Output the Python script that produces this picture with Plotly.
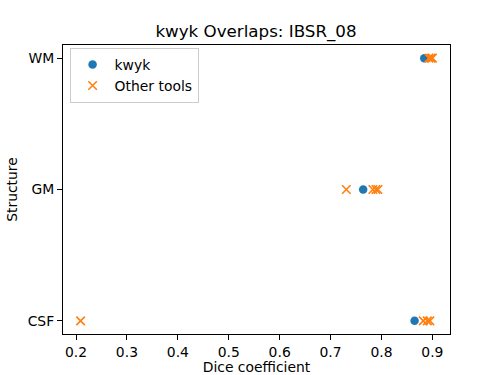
import plotly.graph_objects as go

structures = ["CSF", "GM", "WM"]
kwyk_dice = [0.865, 0.764, 0.884]
other_struct = ["CSF", "CSF", "CSF", "CSF", "GM", "GM", "GM", "GM", "WM", "WM", "WM"]
other_dice = [0.209, 0.882, 0.890, 0.895, 0.731, 0.783, 0.789, 0.793, 0.893, 0.897, 0.900]

ymap = {s: i for i, s in enumerate(structures)}

fig = go.Figure()
fig.add_trace(go.Scatter(
    x=kwyk_dice, y=[ymap[s] for s in structures], mode="markers", name="kwyk",
    marker=dict(symbol="circle", size=8.5, color="#1f77b4"),
))
fig.add_trace(go.Scatter(
    x=other_dice, y=[ymap[s] for s in other_struct], mode="markers", name="Other tools",
    marker=dict(symbol="x-thin", size=8.5, color="#ff7f0e", line=dict(width=1.6, color="#ff7f0e")),
))

axis_common = dict(
    showline=True, linecolor="black", linewidth=1.1, mirror=True,
    ticks="outside", ticklen=5, tickwidth=1.1, tickcolor="black",
    showgrid=False, zeroline=False, automargin=False,
    tickfont=dict(family="DejaVu Sans", size=13.9, color="black"),
)

xmin, xmax = min(other_dice + kwyk_dice), max(other_dice + kwyk_dice)
pad = 0.05 * (xmax - xmin)

fig.update_layout(
    width=500, height=375,
    margin=dict(l=62.5, r=50, t=45, b=41.25),
    plot_bgcolor="white", paper_bgcolor="white",
    font=dict(family="DejaVu Sans", color="black"),
    title=dict(text="kwyk Overlaps: IBSR_08", x=0.512, xanchor="center", y=0.917, yanchor="middle",
               font=dict(size=16.7, family="DejaVu Sans", color="black")),
    xaxis=dict(axis_common, range=[xmin - pad, xmax + pad], tickvals=[0.2, 0.3, 0.4, 0.5, 0.6, 0.7, 0.8, 0.9],
               ticktext=["0.2", "0.3", "0.4", "0.5", "0.6", "0.7", "0.8", "0.9"],
               title=dict(text="Dice coefficient", font=dict(size=13.9, family="DejaVu Sans", color="black"), standoff=6)),
    yaxis=dict(axis_common, range=[-0.1, 2.1], tickvals=[0, 1, 2], ticktext=structures,
               title=dict(text="Structure", font=dict(size=13.9, family="DejaVu Sans", color="black"), standoff=6)),
    legend=dict(x=0.017, y=0.99, xanchor="left", yanchor="top",
                bordercolor="#cccccc", borderwidth=1, bgcolor="white", itemwidth=34,
                font=dict(size=13.9, family="DejaVu Sans", color="black"), tracegroupgap=0),
    showlegend=True,
)

fig.write_html("out.html", config={"displayModeBar": False},
               post_script="document.body.style.margin='0px';document.body.style.overflow='hidden';")
